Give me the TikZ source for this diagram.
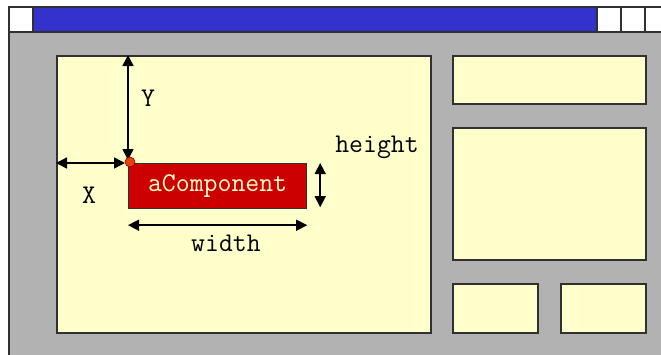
\documentclass[tikz,border=0pt]{standalone}
\usepackage{xcolor}
\usepackage{fontspec}
\usetikzlibrary{arrows.meta, positioning}

\definecolor{winblue}{HTML}{3333CC}
\definecolor{wingray}{HTML}{B2B2B2}
\definecolor{paneyellow}{HTML}{FFFFCC}
\definecolor{compred}{HTML}{CC0000}
\definecolor{dotorange}{HTML}{E8400C}
\definecolor{edgegray}{HTML}{303030}

\begin{document}
\begin{tikzpicture}[x=1pt, y=-1pt, >={Triangle[length=11pt,width=11pt]},
    font=\ttfamily\fontsize{27}{28}\selectfont,
    panel/.style={draw=edgegray, line width=1.6pt, fill=paneyellow, anchor=north west, inner sep=0pt},
    winbtn/.style={draw=edgegray, line width=1.6pt, fill=white, anchor=north west, inner sep=0pt,
        minimum width=24pt, minimum height=25pt},
    dim/.style={<->, line width=1.5pt, black}]
    \useasboundingbox (0,0) rectangle (661,354);
    \clip (0,0) rectangle (661,354);

    % window frame and title bar
    \node[draw=edgegray, line width=1.6pt, fill=wingray, anchor=north west, minimum width=680pt, minimum height=370pt] (win) at (8,6) {};
    \node[draw=edgegray, line width=1.6pt, fill=winblue, anchor=north west, minimum width=564pt, minimum height=25pt] (title) at (32,6) {};
    \node[winbtn] (sysbtn) at (8,6) {};
    \node[winbtn] (minbtn) at (596,6) {};
    \node[winbtn] (maxbtn) at (620,6) {};
    \node[winbtn] (closebtn) at (644,6) {};

    % panels
    \node[panel, minimum width=374pt, minimum height=277pt] (main) at (56,55) {};
    \node[panel, minimum width=193pt, minimum height=48pt] (topright) at (452,55) {};
    \node[panel, minimum width=193pt, minimum height=132pt] (midright) at (452,127) {};
    \node[panel, minimum width=85pt, minimum height=49pt] (botleft) at (452,283) {};
    \node[panel, minimum width=85pt, minimum height=49pt] (botright) at (560,283) {};

    % the component
    \node[draw=edgegray, line width=1.2pt, fill=compred, text=paneyellow, anchor=north west,
        minimum width=178pt, minimum height=45pt, inner sep=0pt] (comp) at (128,163) {aComponent};
    \coordinate (yend) at (main.north -| comp.north west);
    \coordinate (xend) at (main.west |- comp.north west);
    \coordinate (wl) at ([yshift=-16pt]comp.south west);
    \coordinate (wr) at ([yshift=-16pt]comp.south east);
    \coordinate (ht) at ([xshift=13pt]comp.north east);
    \coordinate (hb) at ([xshift=13pt, yshift=2pt]comp.south east);

    \draw[dim] (yend) -- ([yshift=3pt]comp.north west);
    \draw[dim] (xend) -- ([xshift=-3pt]comp.north west);
    \draw[dim] (wl) -- (wr);
    \draw[dim] (ht) -- (hb);
    \node[circle, fill=dotorange, draw=compred!70!black, line width=0.6pt, inner sep=0pt, minimum size=10pt] (origin) at ([xshift=2pt, yshift=1pt]comp.north west) {};

    \node (ylabel) at (148,98) {Y};
    \node (xlabel) at (89,195) {X};
    \node (wlabel) at (226,243) {width};
    \node (hlabel) at (377,147) {height};
\end{tikzpicture}
\end{document}
